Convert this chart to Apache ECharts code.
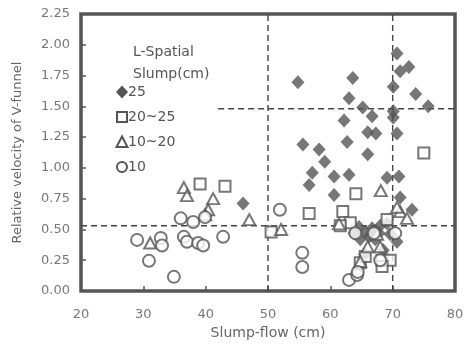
<!DOCTYPE html>
<html><head><meta charset="utf-8">
<script src="https://cdn.jsdelivr.net/npm/echarts@6/dist/echarts.min.js"></script>
<style>html,body{margin:0;padding:0;background:#fff}#c{width:475px;height:347px}</style>
</head><body><div id="c"></div>
<script>
var xTicks = [20, 30, 40, 50, 60, 70, 80];
var yTicks = [0, 0.25, 0.5, 0.75, 1.0, 1.25, 1.5, 1.75, 2.0, 2.25];
var seriesNames = ['25', '20~25', '10~20', '10'];
var s25 = [
  [54.8,1.695],[63.6,1.73],[70.7,1.93],[71.2,1.785],[72.6,1.82],[70.1,1.66],[73.7,1.60],[75.7,1.50],
  [63.0,1.565],[65.2,1.49],[66.7,1.42],[62.2,1.385],[70.1,1.46],[70.1,1.41],[66.0,1.29],[67.3,1.28],
  [62.7,1.21],[70.7,1.28],[55.6,1.19],[58.2,1.15],[59.1,1.05],[66.0,1.11],[57.1,0.96],[56.6,0.86],
  [60.6,0.93],[63.0,0.945],[60.6,0.78],[69.1,0.92],[71.0,0.93],[71.2,0.76],[73.1,0.66],[46.0,0.71],
  [65.6,0.48],[66.7,0.51],[68.0,0.53],[69.1,0.55],[64.8,0.42],[67.2,0.42],[70.7,0.40],[69.6,0.46],
  [68.5,0.33],[65.5,0.30],[63.8,0.47],[64.6,0.52],[66.2,0.44],[67.8,0.47]
];
var s2025 = [
  [75.0,1.12],[39.1,0.87],[43.1,0.85],[50.5,0.48],[56.6,0.63],[64.1,0.79],[62.0,0.645],[63.2,0.555],
  [69.1,0.58],[61.6,0.53],[64.8,0.23],[65.6,0.28],[68.3,0.25],[69.6,0.25],[68.3,0.20]
];
var s1020 = [
  [36.5,0.84],[37.0,0.775],[41.2,0.75],[40.4,0.66],[39.9,0.62],[47.0,0.58],[31.1,0.39],[52.1,0.50],
  [61.4,0.545],[68.1,0.815],[71.2,0.645],[72.3,0.59],[66.0,0.36],[68.0,0.36],[64.8,0.24],[70.7,0.68],
  [67.5,0.46]
];
var s10 = [
  [29.0,0.415],[32.8,0.43],[33.0,0.37],[30.9,0.245],[34.9,0.115],[36.0,0.59],[38.0,0.56],[39.9,0.60],
  [36.5,0.44],[37.0,0.40],[38.8,0.39],[39.6,0.37],[42.8,0.44],[51.9,0.66],[55.5,0.31],[55.5,0.195],
  [64.0,0.47],[63.0,0.09],[64.3,0.13],[64.4,0.155],[68.0,0.25],[70.4,0.47],[67.0,0.47]
];
var refLines = [
  [[50,0],[50,2.25]],
  [[70,0],[70,2.25]],
  [[20,0.53],[80,0.53]],
  [[42,1.48],[80,1.48]]
];

var gray = '#555';
var open = {color:'#fff', borderColor: gray, borderWidth: 2};
var series = [
  {name: seriesNames[0], type:'scatter', symbol:'diamond', symbolSize:[13,14], data:s25, itemStyle:{color:gray}, z:3},
  {name: seriesNames[1], type:'scatter', symbol:'rect', symbolSize:11, data:s2025, itemStyle:open, z:4},
  {name: seriesNames[2], type:'scatter', symbol:'triangle', symbolSize:[12,11], data:s1020, itemStyle:open, z:4},
  {name: seriesNames[3], type:'scatter', symbol:'circle', symbolSize:12, data:s10, itemStyle:open, z:4}
];
refLines.forEach(function(seg){
  series.push({type:'line', data:seg, symbol:'none', silent:true, z:2,
    lineStyle:{color:'#444', width:1.4, type:[6,4]}});
});

// legend drawn as graphic (icon + label per series)
var lx = 122, ly0 = 92, ldy = 25;
var legendIcons = [
  {type:'polygon', shape:{points:[[lx,ly0-6.5],[lx+6,ly0],[lx,ly0+6.5],[lx-6,ly0]]}, style:{fill:gray}},
  {type:'rect', shape:{x:lx-5, y:ly0+ldy-5, width:10, height:10}, style:{fill:'#fff', stroke:gray, lineWidth:2}},
  {type:'polygon', shape:{points:[[lx,ly0+2*ldy-5.5],[lx+5.5,ly0+2*ldy+5],[lx-5.5,ly0+2*ldy+5]]}, style:{fill:'#fff', stroke:gray, lineWidth:2}},
  {type:'circle', shape:{cx:lx, cy:ly0+3*ldy, r:5}, style:{fill:'#fff', stroke:gray, lineWidth:2}}
];
var graphics = [{type:'text', left:133, top:41, style:{text:'L-Spatial\nSlump(cm)', align:'center',
    fill:'#555', fontSize:14, fontFamily:'DejaVu Sans', lineHeight:22}}];
seriesNames.forEach(function(n, i){
  graphics.push(legendIcons[i]);
  graphics.push({type:'text', x:lx+6, y:ly0+i*ldy, style:{text:n, fill:'#555', fontSize:14,
    fontFamily:'DejaVu Sans', verticalAlign:'middle', align:'left'}});
});

var chart = echarts.init(document.getElementById('c'), null, {renderer:'canvas'});
chart.setOption({
  animation:false,
  backgroundColor:'#fff',
  grid:{left:81, right:20, top:14, bottom:56, show:true, borderColor:'#555', borderWidth:3.5, backgroundColor:'transparent'},
  xAxis:{type:'value', min:xTicks[0], max:xTicks[xTicks.length-1], interval:10,
    axisLine:{show:false}, splitLine:{show:false},
    axisTick:{show:true, inside:true, length:5, lineStyle:{color:'#555', width:1.5}},
    axisLabel:{color:'#777', fontSize:13, fontFamily:'DejaVu Sans', margin:17},
    name:'Slump-flow (cm)', nameLocation:'middle', nameGap:33,
    nameTextStyle:{color:'#666', fontSize:14, fontFamily:'DejaVu Sans'}},
  yAxis:{type:'value', min:0, max:2.25, interval:0.25,
    axisLine:{show:false}, splitLine:{show:false},
    axisTick:{show:true, inside:true, length:5, lineStyle:{color:'#555', width:1.5}},
    axisLabel:{color:'#777', fontSize:13, fontFamily:'DejaVu Sans', margin:11,
      formatter:function(v){return v.toFixed(2);}},
    name:'Relative velocity of V-funnel', nameLocation:'middle', nameGap:57,
    nameTextStyle:{color:'#666', fontSize:13, fontFamily:'DejaVu Sans'}},
  graphic:graphics,
  series:series
});
</script></body></html>
